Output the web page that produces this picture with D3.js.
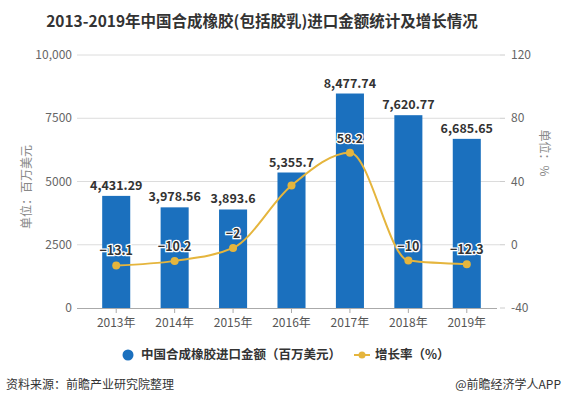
<!DOCTYPE html>
<html><head><meta charset="utf-8">
<script src="https://cdn.jsdelivr.net/npm/d3@7"></script>
<style>body{margin:0;background:#fff}svg{display:block}text{font-family:"Noto Sans CJK SC","Noto Sans",sans-serif}</style>
</head><body><svg id="c" width="565" height="409"></svg>
<script>
const years = ["2013年","2014年","2015年","2016年","2017年","2018年","2019年"];
const amounts = [4431.29, 3978.56, 3893.6, 5355.7, 8477.74, 7620.77, 6685.65];
const amountLabels = ["4,431.29","3,978.56","3,893.6","5,355.7","8,477.74","7,620.77","6,685.65"];
const growth = [-13.1, -10.2, -2, 37.5, 58.2, -10, -12.3];
const growthLabels = ["\u221213.1","\u221210.2","\u22122","","58.2","\u221210","\u221212.3"];
const leftTicks = [0, 2500, 5000, 7500, 10000];
const leftTickLabels = ["0","2500","5000","7500","10,000"];
const rightTicks = [-40, 0, 40, 80, 120];

(function () {
const svg = d3.select("#c");
const plotTop = 55, plotBottom = 308, gridL = 77, gridR = 500;
const x = d3.scaleBand().domain(years).range([87, 496]).paddingInner(0.52).paddingOuter(0.26);
const yL = d3.scaleLinear().domain([0, 10000]).range([plotBottom, plotTop]);
const yR = d3.scaleLinear().domain([-40, 120]).range([plotBottom, plotTop]);

const blue = "#1b70be", gold = "#e5b53d";

svg.append("text").attr("x", 262).attr("y", 27).attr("text-anchor", "middle")
  .attr("font-size", 15.5).attr("font-weight", "bold").attr("fill", "#333")
  .text("2013-2019年中国合成橡胶(包括胶乳)进口金额统计及增长情况");

svg.append("g").selectAll("line").data(leftTicks.filter(d => d > 0)).join("line")
  .attr("x1", gridL).attr("x2", gridR).attr("y1", d => yL(d)).attr("y2", d => yL(d))
  .attr("stroke", "#dcdcdc").attr("stroke-width", 1);
svg.append("g").selectAll("text").data(leftTicks).join("text")
  .attr("x", 72).attr("y", d => yL(d)).attr("dy", "0.35em").attr("text-anchor", "end")
  .attr("font-size", 12).attr("fill", "#666").text((d, i) => leftTickLabels[i]);
svg.append("g").selectAll("line").data(rightTicks).join("line")
  .attr("x1", gridR).attr("x2", 505).attr("y1", d => yR(d)).attr("y2", d => yR(d))
  .attr("stroke", "#ccc");
svg.append("g").selectAll("text").data(rightTicks).join("text")
  .attr("x", 511).attr("y", d => yR(d)).attr("dy", "0.35em").attr("text-anchor", "start")
  .attr("font-size", 12).attr("fill", "#666").text(d => d);

svg.append("text").attr("transform", `translate(27,187) rotate(-90)`).attr("text-anchor", "middle")
  .attr("dy", "0.35em").attr("font-size", 12).attr("fill", "#888").text("单位：百万美元");
svg.append("text").attr("transform", `translate(544,153) rotate(90)`).attr("text-anchor", "middle")
  .attr("dy", "0.35em").attr("font-size", 12).attr("fill", "#888").text("单位：%");

svg.append("g").selectAll("rect").data(amounts).join("rect")
  .attr("x", (d, i) => x(years[i])).attr("width", x.bandwidth())
  .attr("y", d => yL(d)).attr("height", d => plotBottom - yL(d)).attr("fill", blue);

svg.append("line").attr("x1", gridL).attr("x2", 497).attr("y1", plotBottom + 0.5).attr("y2", plotBottom + 0.5).attr("stroke", "#aaa");
svg.append("g").selectAll("line").data(years).join("line")
  .attr("x1", d => x(d) + x.bandwidth() / 2).attr("x2", d => x(d) + x.bandwidth() / 2)
  .attr("y1", plotBottom).attr("y2", plotBottom + 5).attr("stroke", "#aaa");
svg.append("g").selectAll("text").data(years).join("text")
  .attr("x", d => x(d) + x.bandwidth() / 2).attr("y", 323).attr("dy", "0.35em")
  .attr("text-anchor", "middle").attr("font-size", 12).attr("fill", "#555").text(d => d);

svg.append("g").selectAll("text").data(amounts).join("text")
  .attr("x", (d, i) => x(years[i]) + x.bandwidth() / 2).attr("y", d => yL(d) - 6)
  .attr("text-anchor", "middle").attr("font-size", 12.5).attr("font-weight", "bold")
  .attr("fill", "#333").text((d, i) => amountLabels[i]);

const cx = i => x(years[i]) + x.bandwidth() / 2;
const line = d3.line().x((d, i) => cx(i)).y(d => yR(d)).curve(d3.curveMonotoneX);
svg.append("path").datum(growth).attr("d", line).attr("fill", "none")
  .attr("stroke", gold).attr("stroke-width", 2);
svg.append("g").selectAll("circle").data(growth).join("circle")
  .attr("cx", (d, i) => cx(i)).attr("cy", d => yR(d)).attr("r", 4).attr("fill", gold);
svg.append("g").selectAll("text").data(growth).join("text")
  .attr("x", (d, i) => cx(i)).attr("y", d => yR(d) - 10)
  .attr("text-anchor", "middle").attr("font-size", 12.5).attr("font-weight", "bold")
  .attr("fill", "#333").attr("stroke", "#fff").attr("stroke-width", 2.5).attr("paint-order", "stroke")
  .text((d, i) => growthLabels[i]);

svg.append("circle").attr("cx", 128).attr("cy", 355).attr("r", 5.5).attr("fill", blue);
svg.append("text").attr("x", 141).attr("y", 355).attr("dy", "0.35em").attr("font-size", 12.5)
  .attr("fill", "#333").attr("font-weight", "bold").text("中国合成橡胶进口金额（百万美元）");
svg.append("line").attr("x1", 354).attr("x2", 370).attr("y1", 355).attr("y2", 355).attr("stroke", gold).attr("stroke-width", 2);
svg.append("circle").attr("cx", 362).attr("cy", 355).attr("r", 3.5).attr("fill", gold);
svg.append("text").attr("x", 375).attr("y", 355).attr("dy", "0.35em").attr("font-size", 12.5)
  .attr("fill", "#333").attr("font-weight", "bold").text("增长率（%）");

svg.append("text").attr("x", 6).attr("y", 385).attr("dy", "0.35em").attr("font-size", 12)
  .attr("fill", "#333").text("资料来源：前瞻产业研究院整理");
svg.append("text").attr("x", 561).attr("y", 385).attr("dy", "0.35em").attr("text-anchor", "end")
  .attr("font-size", 12).attr("fill", "#333").text("@前瞻经济学人APP");
})();
</script></body></html>
